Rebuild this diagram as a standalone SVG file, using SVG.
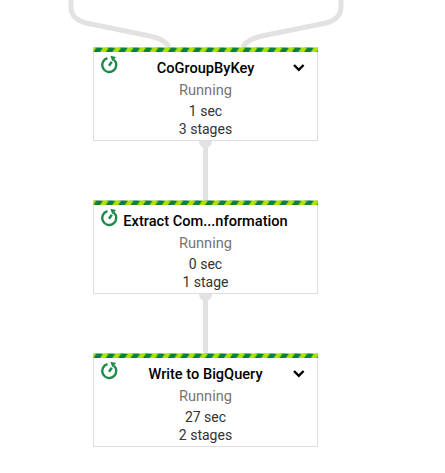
<svg xmlns="http://www.w3.org/2000/svg" width="445" height="473" viewBox="0 0 445 473">
<style>
text{font-family:Roboto,"Liberation Sans",sans-serif;text-anchor:middle}
.t{font-size:14.6px;font-weight:500;fill:#000}
.s{font-size:14.6px;fill:#757575}
.d{font-size:14px;fill:#333}
.box{fill:#fff;stroke:#dedede;stroke-width:1}
.c{fill:none;stroke:#e2e2e2;stroke-width:5}
.ic{fill:none;stroke:#1e8a4a;stroke-width:2.4}
.ch{fill:none;stroke:#000;stroke-width:2.4}
</style>
<defs>
<pattern id="st" width="12.400" height="4.500" patternUnits="userSpaceOnUse">
<rect width="12.400" height="4.500" fill="#aee000"/>
<path d="M0 4.500L3 0H9.500L6.500 4.500Z" fill="#05803f"/>
</pattern>
<rect id="band" width="224.500" height="4.500" fill="url(#st)"/>
<g id="icon">
<path class="ic" d="M4.800-5.300A7 7 0 1 1-1.500-6.800"/>
<path d="M1.300-9.300L7-8 3.300-3.700Z" fill="#1e8a4a"/>
<path class="ic" d="M0 0.800L2.800-3.200"/>
</g>
</defs>
<g id="connectors">
<path class="c" d="M71 0V7Q71 19 86 23L150 36Q165 39 169 47"/>
<path class="c" d="M341 0V7Q341 19 326 23L262 36Q247 39 243 47"/>
<path class="c" d="M205.500 141V201"/>
<path class="c" d="M205.500 294V354"/>
<path d="M199 141H212Q212 147 205.500 148Q199 147 199 141Z" fill="#e2e2e2"/>
<path d="M199 294H212Q212 300 205.500 301Q199 300 199 294Z" fill="#e2e2e2"/>
</g>
<g id="node1">
<rect class="box" x="93.500" y="48" width="224" height="92.500"/>
<use href="#band" x="93.500" y="47.500"/>
<use href="#icon" x="109" y="65"/>
<text class="t" x="205.500" y="73">CoGroupByKey</text>
<path class="ch" d="M294 65L298.800 69.800 303.600 65"/>
<text class="s" x="205.500" y="95">Running</text>
<text class="d" x="205.500" y="116">1 sec</text>
<text class="d" x="205.500" y="134">3 stages</text>
</g>
<g id="node2">
<rect class="box" x="93.500" y="201" width="224" height="92.500"/>
<use href="#band" x="93.500" y="200.500"/>
<use href="#icon" x="109" y="218"/>
<text class="t" x="205.500" y="226">Extract Com...nformation</text>
<text class="s" x="205.500" y="248">Running</text>
<text class="d" x="205.500" y="269">0 sec</text>
<text class="d" x="205.500" y="287">1 stage</text>
</g>
<g id="node3">
<rect class="box" x="93.500" y="354" width="224" height="92.500"/>
<use href="#band" x="93.500" y="353.500"/>
<use href="#icon" x="109" y="371"/>
<text class="t" x="205.500" y="379">Write to BigQuery</text>
<path class="ch" d="M294 371L298.800 375.800 303.600 371"/>
<text class="s" x="205.500" y="401">Running</text>
<text class="d" x="205.500" y="422">27 sec</text>
<text class="d" x="205.500" y="440">2 stages</text>
</g>
</svg>
